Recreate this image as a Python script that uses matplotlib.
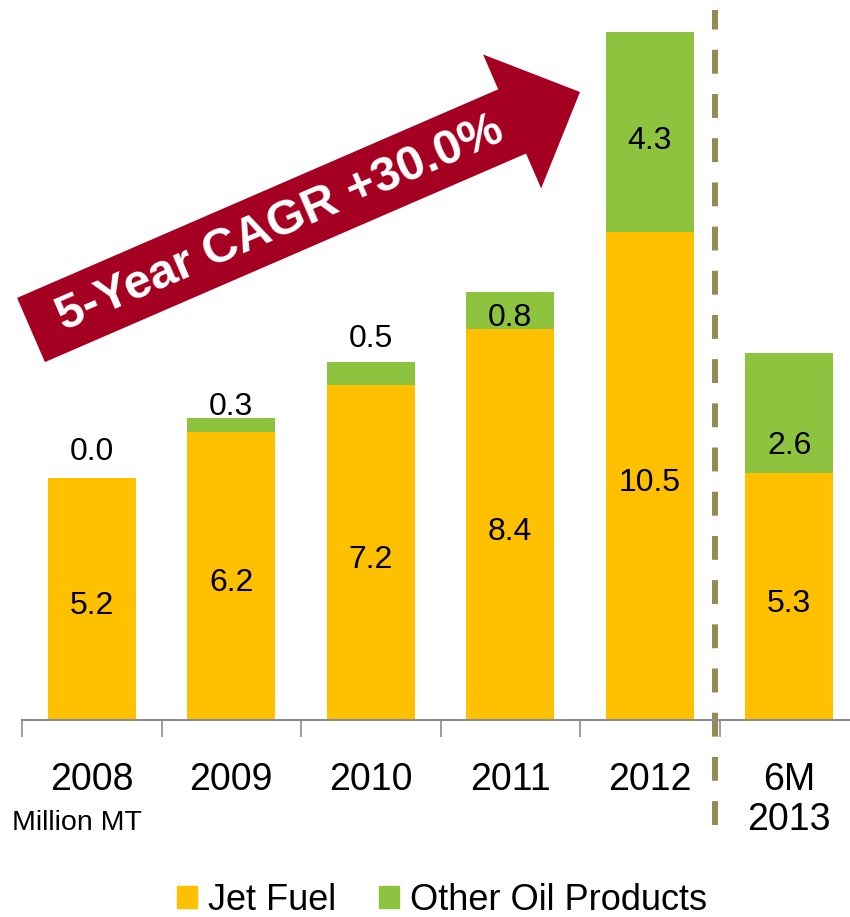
import matplotlib
matplotlib.use('Agg')
import matplotlib.pyplot as plt
from matplotlib.patches import FancyArrow, Patch
import numpy as np

plt.rcParams['font.family'] = ['Liberation Sans', 'DejaVu Sans']

# data (Million MT)
years = ['2008', '2009', '2010', '2011', '2012', '6M\n2013']
jet_fuel = [5.2, 6.2, 7.2, 8.4, 10.5, 5.3]
other_oil = [0.0, 0.3, 0.5, 0.8, 4.3, 2.6]

jet_color = '#FFC000'
other_color = '#8DC33F'

fig = plt.figure(figsize=(8.5, 9.17), dpi=100)
ax = fig.add_axes([22/850, 197/917, 828/850, 720/917])

x = np.arange(len(years))
ax.bar(x, jet_fuel, width=0.63, color=jet_color, label='Jet Fuel')
ax.bar(x, other_oil, width=0.63, bottom=jet_fuel, color=other_color,
       label='Other Oil Products')

ax.set_xlim(-0.5, 5.435)
ax.set_ylim(0, 15.48)

# value labels (label nudges in points, like the original slide)
other_nudge = [5, -6, 3, -5, -7, -24]
for i in range(len(years)):
    ax.annotate(f'{jet_fuel[i]:.1f}', (x[i], jet_fuel[i] / 2), xytext=(0, -5),
                textcoords='offset points', ha='center', va='center',
                fontsize=23)
    top = jet_fuel[i] + other_oil[i]
    if other_oil[i] >= 0.8:
        ax.annotate(f'{other_oil[i]:.1f}', (x[i], jet_fuel[i] + other_oil[i] / 2),
                    xytext=(0, other_nudge[i]), textcoords='offset points',
                    ha='center', va='center', fontsize=23)
    else:
        ax.annotate(f'{other_oil[i]:.1f}', (x[i], top),
                    xytext=(0, 3 + other_nudge[i]), textcoords='offset points',
                    ha='center', va='bottom', fontsize=23)

# axes styling
for s in ['left', 'top', 'right']:
    ax.spines[s].set_visible(False)
ax.spines['bottom'].set_color('#8C8C8C')
ax.spines['bottom'].set_linewidth(1.5)
ax.set_yticks([])
ax.set_xticks(x)
ax.set_xticklabels(years, fontsize=27, linespacing=1.15)
ax.tick_params(axis='x', which='major', length=0, pad=30)
ax.set_xticks(np.arange(-0.5, 5.5, 1.0), minor=True)
ax.tick_params(axis='x', which='minor', length=12, width=1.2, color='#8C8C8C')

ax.text(-0.012, -0.143, 'Million MT', transform=ax.transAxes, fontsize=20.5,
        ha='left', va='center')

# dashed separator
ax.axvline(4.47, ymin=-0.146, ymax=0.986, color='#948A54', linewidth=4.3,
           dashes=(4.0, 3.4), clip_on=False)

# CAGR arrow (figure pixel coordinates)
ov = fig.add_axes([0, 0, 1, 1])
ov.set_xlim(0, 850)
ov.set_ylim(917, 0)
ov.axis('off')
ov.add_patch(FancyArrow(31, 330, 549, -238, width=70, head_width=146,
                        head_length=74, length_includes_head=True,
                        color='#A50021', linewidth=0))
ov.text(280, 224, '5-Year CAGR +30.0%', rotation=23.4, rotation_mode='anchor',
        ha='center', va='center', color='white', fontsize=35,
        fontweight='bold')

# legend
handles = [Patch(color=jet_color), Patch(color=other_color)]
fig.legend(handles, ['Jet Fuel', 'Other Oil Products'], loc='center',
           bbox_to_anchor=(0.52, 1 - 900/917), ncol=2, frameon=False,
           fontsize=26, handlelength=0.55, handleheight=0.55,
           handletextpad=0.3, columnspacing=1.2)

fig.savefig('out.png', dpi=100)
